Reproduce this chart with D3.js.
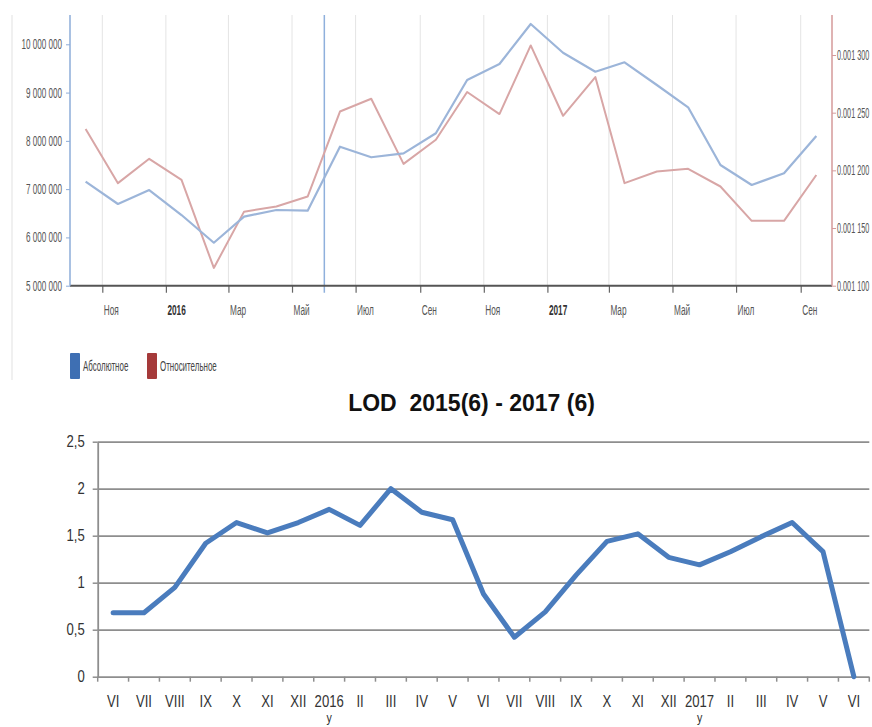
<!DOCTYPE html>
<html><head><meta charset="utf-8">
<script src="https://cdn.jsdelivr.net/npm/d3@7"></script>
<style>
body{margin:0;background:#fff;}
svg{display:block;font-family:"Liberation Sans",Arial,sans-serif;}
</style></head>
<body>
<svg id="c" width="872" height="727"></svg>
<script>
// ---------- top chart data ----------
const months = ["2015-10","2015-11","2015-12","2016-01","2016-02","2016-03","2016-04","2016-05","2016-06","2016-07","2016-08","2016-09",
                "2016-10","2016-11","2016-12","2017-01","2017-02","2017-03","2017-04","2017-05","2017-06","2017-07","2017-08","2017-09"];
const absoluteVals = [7154000,6692000,6982000,6464000,5890000,6430000,6568000,6553000,7879000,7660000,7742000,8157000,
                      9260000,9592000,10420000,9826000,9432000,9627000,9157000,8695000,7500000,7086000,7328000,8100000];
const relativeVals = [0.0012358,0.0011889,0.00121,0.0011917,0.0011154,0.0011642,0.0011686,0.0011773,0.001251,0.0012621,0.0012056,0.0012265,
                      0.0012679,0.0012488,0.0013083,0.0012473,0.0012809,0.0011889,0.001199,0.0012013,0.001186,0.0011562,0.0011562,0.001196];
const topTickMonths = ["2015-11","2016-01","2016-03","2016-05","2016-07","2016-09","2016-11","2017-01","2017-03","2017-05","2017-07","2017-09"];
const topTickLabels = ["Ноя","2016","Мар","Май","Июл","Сен","Ноя","2017","Мар","Май","Июл","Сен"];
const leftTicks = [5000000,6000000,7000000,8000000,9000000,10000000];
const rightTicks = [0.0011,0.00115,0.0012,0.00125,0.0013];
const markerMonth = "2016-06";
const legendLabels = ["Абсолютное","Относительное"];

// ---------- bottom chart data ----------
const lodTitle = "LOD  2015(6) - 2017 (6)";
const lodCats = ["VI","VII","VIII","IX","X","XI","XII","2016","II","III","IV","V",
                 "VI","VII","VIII","IX","X","XI","XII","2017","II","III","IV","V","VI"];
const lodValues = [0.68,0.68,0.95,1.42,1.64,1.53,1.64,1.78,1.61,2.0,1.75,1.67,
                   0.88,0.42,0.69,1.08,1.44,1.52,1.27,1.19,1.33,1.49,1.64,1.33,0];
const lodTicks = [0,0.5,1,1.5,2,2.5];

const svg = d3.select("#c");
const parseM = s => { const [y,m] = s.split("-").map(Number); return new Date(y, m-1, 1); };
const midM = s => { const [y,m] = s.split("-").map(Number); return new Date(y, m-1, 16); };

function squeeze(sel, sx){
  sel.each(function(){
    const t = d3.select(this);
    const x = +t.attr("x") || 0;
    t.attr("x", x/sx).attr("transform", `scale(${sx},1)`);
  });
}

// ================= TOP CHART =================
const tL = 70, tR = 832, tT = 15, tB = 285.7;
const x = d3.scaleTime().domain([parseM("2015-11"), parseM("2017-09")]).range([102.3, 800.7]);
const yL = d3.scaleLinear().domain([5000000, 10000000]).range([tB, 44.3]);
const yR = d3.scaleLinear().domain([0.0011, 0.0013]).range([tB, 55]);

// panel edge line
svg.append("line").attr("x1",12).attr("x2",12).attr("y1",tT).attr("y2",380)
  .attr("stroke","#e6e6e6").attr("stroke-width",1.2);

// vertical grid
const tickDates = topTickMonths.map(parseM);
svg.append("g").selectAll("line").data(tickDates).join("line")
  .attr("x1",d=>x(d)).attr("x2",d=>x(d)).attr("y1",tT).attr("y2",tB)
  .attr("stroke","#e4e4e4").attr("stroke-width",1);

// marker line
const mx = x(parseM(markerMonth));
svg.append("line").attr("x1",mx).attr("x2",mx).attr("y1",tT).attr("y2",tB+7)
  .attr("stroke","#8fb0dc").attr("stroke-width",1.5);

// bottom axis
const xAxisG = svg.append("g").attr("transform",`translate(0,${tB})`)
  .call(d3.axisBottom(x).tickValues(tickDates).tickSize(7).tickFormat((d,i)=>topTickLabels[i]));
xAxisG.select(".domain").remove();
xAxisG.selectAll(".tick line").attr("stroke","#666").attr("stroke-width",1.2);
xAxisG.selectAll(".tick text")
  .attr("text-anchor","start").attr("x",1).attr("y",19).attr("dy","0.71em")
  .attr("font-size",15)
  .attr("font-weight",(d,i)=>/^\d{4}$/.test(topTickLabels[i]) ? "bold" : "normal")
  .attr("fill",(d,i)=>/^\d{4}$/.test(topTickLabels[i]) ? "#333" : "#555");
squeeze(xAxisG.selectAll(".tick text"), 0.55);
svg.append("line").attr("x1",tL).attr("x2",tR).attr("y1",tB).attr("y2",tB)
  .attr("stroke","#555").attr("stroke-width",2);

// left axis
const lAx = svg.append("g").attr("transform",`translate(${tL},0)`)
  .call(d3.axisLeft(yL).tickValues(leftTicks).tickSize(4).tickSizeOuter(0)
        .tickFormat(d=>d3.format(",")(d).replace(/,/g," ")));
lAx.select(".domain").remove();
lAx.selectAll(".tick line").attr("stroke","#8cacd9");
lAx.selectAll(".tick text").attr("font-size",14).attr("fill","#555").attr("x",-8);
squeeze(lAx.selectAll(".tick text"), 0.58);
svg.append("line").attr("x1",tL).attr("x2",tL).attr("y1",tT).attr("y2",tB)
  .attr("stroke","#8cacd9").attr("stroke-width",1.5);

// right axis
const rAx = svg.append("g").attr("transform",`translate(${tR},0)`)
  .call(d3.axisRight(yR).tickValues(rightTicks).tickSize(4).tickSizeOuter(0)
        .tickFormat(d=>{ const s = d.toFixed(6); return s.slice(0,5)+" "+s.slice(5); }));
rAx.select(".domain").remove();
rAx.selectAll(".tick line").attr("stroke","#d49a9a");
rAx.selectAll(".tick text").attr("font-size",14).attr("fill","#555").attr("x",5);
squeeze(rAx.selectAll(".tick text"), 0.52);
svg.append("line").attr("x1",tR).attr("x2",tR).attr("y1",tT).attr("y2",tB)
  .attr("stroke","#d49a9a").attr("stroke-width",1.5);

// lines
const dates = months.map(midM);
svg.append("path").datum(relativeVals)
  .attr("fill","none").attr("stroke","#d8a6a6").attr("stroke-width",2).attr("stroke-linejoin","round")
  .attr("d", d3.line().x((d,i)=>x(dates[i])).y(d=>yR(d)));
svg.append("path").datum(absoluteVals)
  .attr("fill","none").attr("stroke","#9cb5d9").attr("stroke-width",2.2).attr("stroke-linejoin","round")
  .attr("d", d3.line().x((d,i)=>x(dates[i])).y(d=>yL(d)));

// legend
const legColors = ["#3e6fb3","#a53a3a"];
const legX = [70, 147];
const lg = svg.append("g");
legendLabels.forEach((lab,i)=>{
  lg.append("rect").attr("x",legX[i]).attr("y",353).attr("width",10).attr("height",26)
    .attr("rx",1).attr("fill",legColors[i]);
  const t = lg.append("text").attr("x",legX[i]+13).attr("y",371).attr("font-size",15)
    .attr("fill","#444").text(lab);
  squeeze(t, 0.53);
});

// ================= BOTTOM CHART =================
const bL = 97.7, bR = 869.3, bT = 441.7, bB = 676.7;
const xb = d3.scaleBand().domain(d3.range(lodCats.length)).range([bL, bR]).padding(0);
const yb = d3.scaleLinear().domain([0, 2.5]).range([bB, bT]);

svg.append("text").attr("x",471.5).attr("y",411).attr("text-anchor","middle")
  .attr("font-size",23).attr("font-weight","bold").attr("fill","#111")
  .style("white-space","pre").text(lodTitle);

// gridlines
const grid = svg.append("g").attr("transform",`translate(${bL},0)`)
  .call(d3.axisLeft(yb).tickValues(lodTicks).tickSize(-(bR-bL)).tickFormat(""));
grid.select(".domain").remove();
grid.selectAll(".tick line").attr("stroke","#8e8e8e").attr("stroke-width",1.8);

// y axis
const yAx = svg.append("g").attr("transform",`translate(${bL},0)`)
  .call(d3.axisLeft(yb).tickValues(lodTicks).tickSize(5).tickSizeOuter(0)
        .tickFormat(d=>String(d).replace(".",",")));
yAx.select(".domain").attr("stroke","#8e8e8e").attr("stroke-width",1.8);
yAx.selectAll(".tick line").attr("stroke","#8e8e8e").attr("stroke-width",1.5);
yAx.selectAll(".tick text").attr("font-size",16).attr("fill","#333").attr("x",-13);
squeeze(yAx.selectAll(".tick text"), 0.82);

// x axis (labels centered, tick marks at category boundaries)
const xAx = svg.append("g").attr("transform",`translate(0,${bB})`)
  .call(d3.axisBottom(xb).tickSize(0).tickFormat(i=>lodCats[i]));
xAx.select(".domain").remove();
xAx.selectAll(".tick text").attr("font-size",16).attr("fill","#333").attr("y",19).attr("dy","0.71em");
squeeze(xAx.selectAll(".tick text"), 0.82);
const bounds = d3.range(lodCats.length+1).map(i=> i<lodCats.length ? xb(i) : xb(i-1)+xb.bandwidth());
svg.append("g").selectAll("line").data(bounds).join("line")
  .attr("x1",d=>d).attr("x2",d=>d).attr("y1",bB).attr("y2",bB+5)
  .attr("stroke","#8e8e8e").attr("stroke-width",1.5);
// second-line marker under year labels
lodCats.forEach((c,i)=>{
  if(/^\d{4}$/.test(c)){
    const t = svg.append("text").attr("x", xb(i)+xb.bandwidth()/2).attr("y",722)
      .attr("text-anchor","middle").attr("font-size",13).attr("fill","#333").text("у");
    squeeze(t, 0.82);
  }
});

// LOD line
svg.append("path").datum(lodValues)
  .attr("fill","none").attr("stroke","#4a7cbd").attr("stroke-width",5)
  .attr("stroke-linejoin","round").attr("stroke-linecap","round")
  .attr("d", d3.line().x((d,i)=>xb(i)+xb.bandwidth()/2).y(d=>yb(d)));
</script>
</body></html>
